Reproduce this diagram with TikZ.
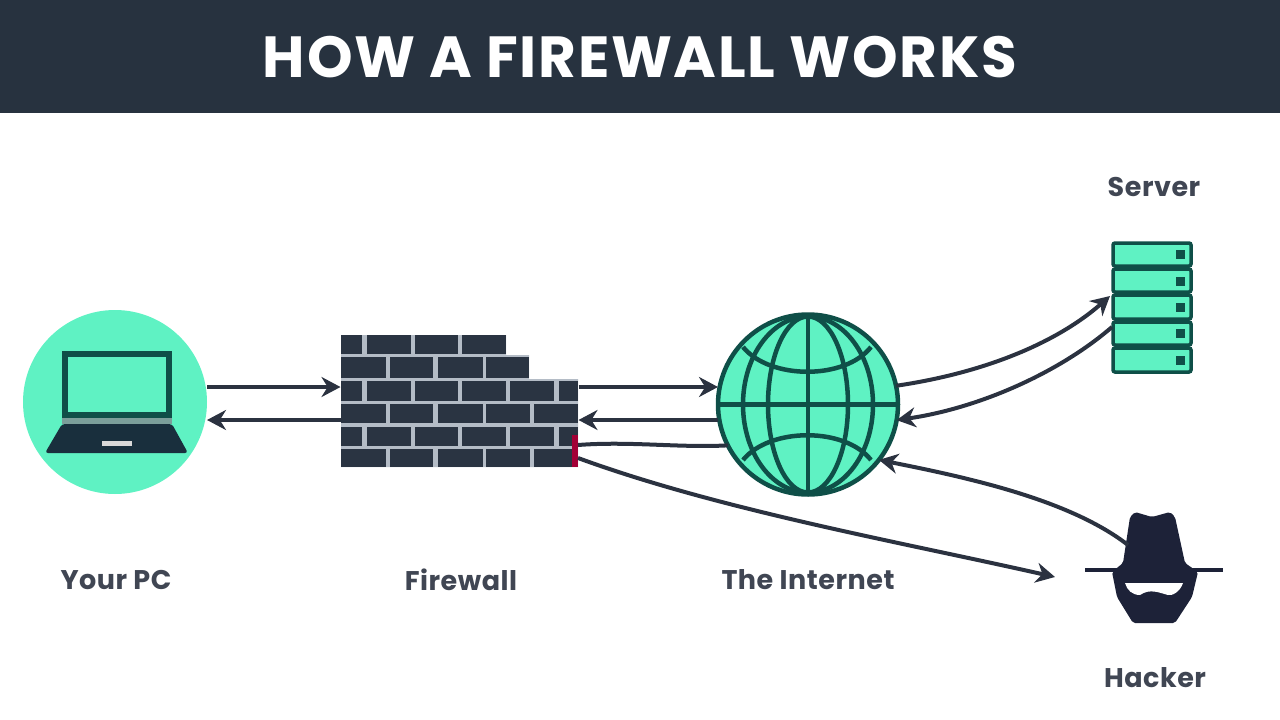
\documentclass[tikz,border=0pt]{standalone}
\usepackage{fontspec}
\usetikzlibrary{arrows.meta}
\newfontfamily\headfont[LetterSpace=3]{Poppins}
\newfontfamily\labelfont[LetterSpace=2]{Poppins}
\definecolor{slatebar}{HTML}{27323F}
\definecolor{mint}{HTML}{5FF2C3}
\definecolor{deepteal}{HTML}{0F4F48}
\definecolor{brick}{HTML}{2A3442}
\definecolor{mortar}{HTML}{B4BCC6}
\definecolor{flowline}{HTML}{2B3240}
\definecolor{spy}{HTML}{1D2238}
\tikzset{
    flow/.style={draw=flowline, line width=4pt, -{Stealth[length=19pt, width=20pt]}},
    flowplain/.style={draw=flowline, line width=4pt},
    tag/.style={font=\labelfont\bfseries\fontsize{27}{30}\selectfont, text=flowline!90!white},
    anchorbox/.style={inner sep=0pt, outer sep=0pt},
    grid/.style={draw=deepteal, line width=4.5pt},
    rack/.style={fill=mint, draw=deepteal, line width=3.5pt, rounded corners=2pt},
}
\begin{document}
\begin{tikzpicture}[x=1pt, y=-1pt]
    \useasboundingbox (0,0) rectangle (1280,720);
    \fill[slatebar] (0,0) rectangle (1280,113);
    \node[anchorbox, text=white, font=\headfont\bfseries\fontsize{58}{60}\selectfont] (title) at (640,57) {HOW A FIREWALL WORKS};

    % main blocks
    \node[anchorbox, circle, fill=mint, minimum size=184pt] (pc) at (115,402) {};
    \node[anchorbox, minimum width=238pt, minimum height=132pt] (wall) at (459.5,401) {};
    \node[anchorbox, circle, fill=mint, draw=deepteal, line width=4.5pt, minimum size=180pt] (globe) at (808,404.5) {};
    \node[anchorbox, minimum width=78pt, minimum height=129pt] (server) at (1152,307.5) {};
    \node[anchorbox, minimum width=138pt, minimum height=112pt] (hacker) at (1154,568) {};

    % laptop
    \draw[draw=deepteal, line width=6pt] (65,354) rectangle (169,415);
    \fill[deepteal!55!white] (62,418) rectangle (172,424);
    \fill[spy!70!deepteal, rounded corners=3pt] (62,424) -- (172,424) -- (188,453) -- (45,453) -- cycle;
    \fill[black!15] (102,441) rectangle (132,446);

    % mortar behind the bricks
    \fill[mortar] (341,335) -- (506,335) -- (506,355) -- (529,355) -- (529,379) -- (578,379) -- (578,467) -- (341,467) -- cycle;
    % brick rows
    \foreach \rowtop/\rowbot/\cuts in {
        335/354/{341/362,367/411,415/458,462/506},
        357/378/{341/386,390/433,438/483,486/529},
        381/401/{341/362,367/411,415/458,462/506,510/554,559/578},
        404/423/{341/386,390/433,438/483,486/530,534/578},
        427/446/{341/362,367/411,415/458,462/506,510/554,559/578},
        449/467/{341/386,390/433,438/483,486/530,534/578}} {
        \foreach \xa/\xb in \cuts {
            \fill[brick] (\xa,\rowtop) rectangle (\xb,\rowbot);
        }
    }
    \fill[purple!85!black] (572,435) rectangle (578,467);

    % globe lines
    \draw[grid] (globe.center) ellipse (40 and 88);
    \draw[grid] (globe.center) ellipse (65 and 88);
    \draw[grid] (globe.north) -- (globe.south);
    \draw[grid] (globe.west) -- (globe.east);
    \draw[grid] (743,347) .. controls (770,380) and (845,380) .. (871,347);
    \draw[grid] (743,460) .. controls (770,427) and (845,427) .. (871,460);

    % server stack
    \draw[rack] (1113,243) rectangle (1191,266);
    \draw[rack] (1113,269) rectangle (1191,292);
    \draw[rack] (1113,295) rectangle (1191,319);
    \draw[rack] (1113,322) rectangle (1191,345);
    \draw[rack] (1113,348) rectangle (1191,372);
    \foreach \ledy in {254,281,307,333,360} {
        \fill[deepteal] (1176,\ledy-4.5) rectangle (1185,\ledy+4.5);
    }

    % hat, brim and face
    \fill[spy, rounded corners=2pt] (1135,512) -- (1152,517) -- (1170,512) -- (1175,517) -- (1185,563) -- (1198,572) -- (1192,597) -- (1175,623) -- (1133,623) -- (1117,597) -- (1112,572) -- (1123,563) -- (1130,517) -- cycle;
    \draw[spy, line width=4pt] (1085,570) -- (1223,570);
    \fill[white] (1125,583) -- (1183,583) .. controls (1180,592) and (1172,596) .. (1168,595) .. controls (1160,593) and (1150,588) .. (1140,595) .. controls (1132,595) and (1127,590) .. (1125,583) -- cycle;

    % ends of the curved links
    \coordinate (toprow) at (0,387);
    \coordinate (lowrow) at (0,420);
    \coordinate (blockin) at (578,445);
    \coordinate (blockout) at (578,458);
    \coordinate (srvin) at (1110,296);
    \coordinate (srvout) at (1112,327);
    \coordinate (hackin) at (1055,577);
    \coordinate (hackout) at (1128,545);

    \draw[flow] (pc.east|-toprow) -- (wall.west|-toprow);
    \draw[flow] (wall.west|-lowrow) -- (pc.east|-lowrow);
    \draw[flow] (wall.east|-toprow) -- (globe.west|-toprow);
    \draw[flow] (globe.west|-lowrow) -- (wall.east|-lowrow);
    \draw[flowplain] (globe.207) .. controls (680,448) and (630,441) .. (blockin);
    \draw[flow] (blockout) .. controls (720,510) and (900,542) .. (hackin);
    \draw[flow] (hackout) .. controls (1070,500) and (970,478) .. (globe.-38);
    \draw[flow] (globe.12) .. controls (990,372) and (1060,340) .. (srvin);
    \draw[flow] (srvout) .. controls (1060,372) and (980,408) .. (globe.-10);

    % captions
    \node[tag] (pclabel) at (116,580) {Your PC};
    \node[tag] (walllabel) at (461,580) {Firewall};
    \node[tag] (netlabel) at (808,580) {The Internet};
    \node[tag] (srvlabel) at (1154,187) {Server};
    \node[tag] (hacklabel) at (1155,678) {Hacker};
\end{tikzpicture}
\end{document}
